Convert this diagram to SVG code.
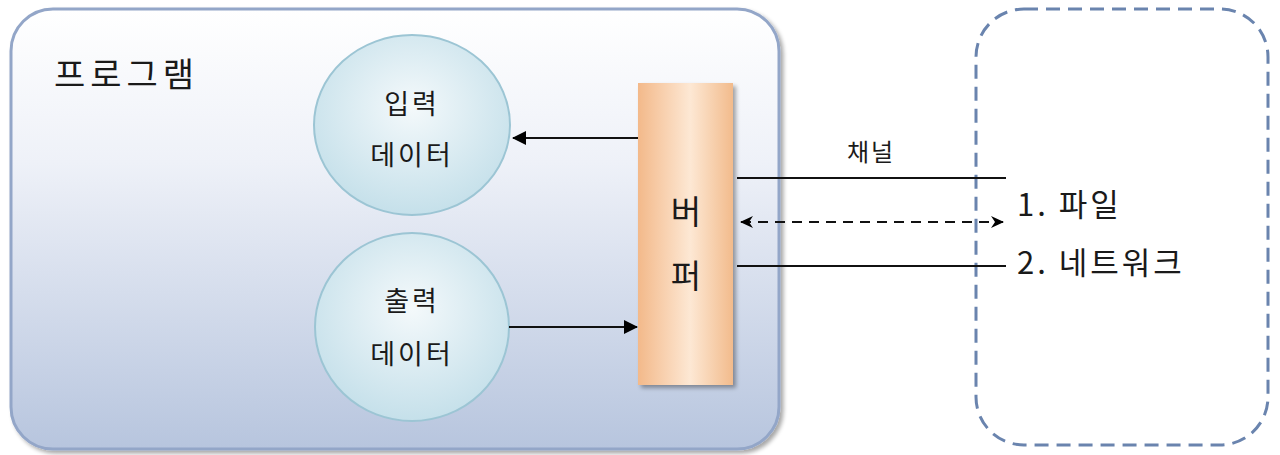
<svg xmlns="http://www.w3.org/2000/svg" width="1280" height="455" viewBox="0 0 1280 455">
<defs>
<linearGradient id="progGrad" x1="0" y1="0" x2="0" y2="1">
<stop offset="0" stop-color="#ffffff"/>
<stop offset="0.35" stop-color="#eef1f8"/>
<stop offset="1" stop-color="#b7c5de"/>
</linearGradient>
<radialGradient id="ellGrad" cx="0.5" cy="0.4" r="0.6">
<stop offset="0" stop-color="#f4f9fb"/>
<stop offset="1" stop-color="#c5e0ea"/>
</radialGradient>
<linearGradient id="bufGrad" x1="0" y1="0" x2="1" y2="0">
<stop offset="0" stop-color="#f3b98a"/>
<stop offset="0.55" stop-color="#fde8d4"/>
<stop offset="1" stop-color="#f2bb8c"/>
</linearGradient>
<marker id="arrFill" markerWidth="14" markerHeight="14" refX="13" refY="7" orient="auto" markerUnits="userSpaceOnUse" viewBox="0 0 14 14">
<path d="M0,0 L14,7 L0,14 Z" fill="#000"/>
</marker>
<marker id="arrOpen" markerWidth="14" markerHeight="14" refX="12" refY="7" orient="auto-start-reverse" markerUnits="userSpaceOnUse" viewBox="0 0 14 14">
<path d="M0,1 L13,7 L0,13 L4,7 Z" fill="#000"/>
</marker>
<filter id="shadow" x="-20%" y="-10%" width="140%" height="120%">
<feGaussianBlur in="SourceAlpha" stdDeviation="2"/>
<feOffset dx="3" dy="3"/>
<feComponentTransfer><feFuncA type="linear" slope="0.35"/></feComponentTransfer>
<feMerge><feMergeNode/><feMergeNode in="SourceGraphic"/></feMerge>
</filter>
</defs>
<style>
.t{font-family:"Noto Sans CJK KR","Noto Sans",sans-serif;fill:#1a1a1a;font-weight:400;}
.c{text-anchor:middle;}
.line{stroke:#111;stroke-width:2;fill:none;}
</style>
<g id="program">
<rect x="11" y="9" width="768" height="440" rx="42" ry="42" fill="url(#progGrad)" stroke="#93a6c8" stroke-width="3" filter="url(#shadow)"/>
<text class="t" x="54" y="87" font-size="34" letter-spacing="5">프로그램</text>
</g>
<g id="external">
<rect x="976" y="9" width="292" height="436" rx="48" ry="48" fill="none" stroke="#6a84ae" stroke-width="3" stroke-dasharray="14 8"/>
<text class="t" x="1017" y="216" font-size="31" letter-spacing="3">1. 파일</text>
<text class="t" x="1017" y="274" font-size="31" letter-spacing="3">2. 네트워크</text>
</g>
<g id="input">
<ellipse cx="412" cy="125" rx="98" ry="90" fill="url(#ellGrad)" stroke="#9cc5d4" stroke-width="2"/>
<text class="t c" x="412" y="114" font-size="27" letter-spacing="3">입력</text>
<text class="t c" x="412" y="165" font-size="27" letter-spacing="3">데이터</text>
</g>
<g id="output">
<ellipse cx="412" cy="327" rx="97" ry="94" fill="url(#ellGrad)" stroke="#9cc5d4" stroke-width="2"/>
<text class="t c" x="412" y="311" font-size="27" letter-spacing="3">출력</text>
<text class="t c" x="412" y="364" font-size="27" letter-spacing="3">데이터</text>
</g>
<g id="buffer">
<rect x="638" y="83" width="95" height="302" fill="url(#bufGrad)" filter="url(#shadow)"/>
<text class="t c" x="686" y="224" font-size="33">버</text>
<text class="t c" x="686" y="288" font-size="33">퍼</text>
</g>
<g id="connectors">
<line class="line" x1="638" y1="138" x2="513" y2="138" marker-end="url(#arrFill)"/>
<line class="line" x1="509" y1="327" x2="637" y2="327" marker-end="url(#arrFill)"/>
<line class="line" x1="737" y1="178" x2="1006" y2="178"/>
<line class="line" x1="737" y1="266" x2="1006" y2="266"/>
<line class="line" x1="741" y1="222" x2="1003" y2="222" stroke-dasharray="10 7" marker-start="url(#arrOpen)" marker-end="url(#arrOpen)"/>
<text class="t c" x="871" y="161" font-size="24" letter-spacing="2">채널</text>
</g>
</svg>
